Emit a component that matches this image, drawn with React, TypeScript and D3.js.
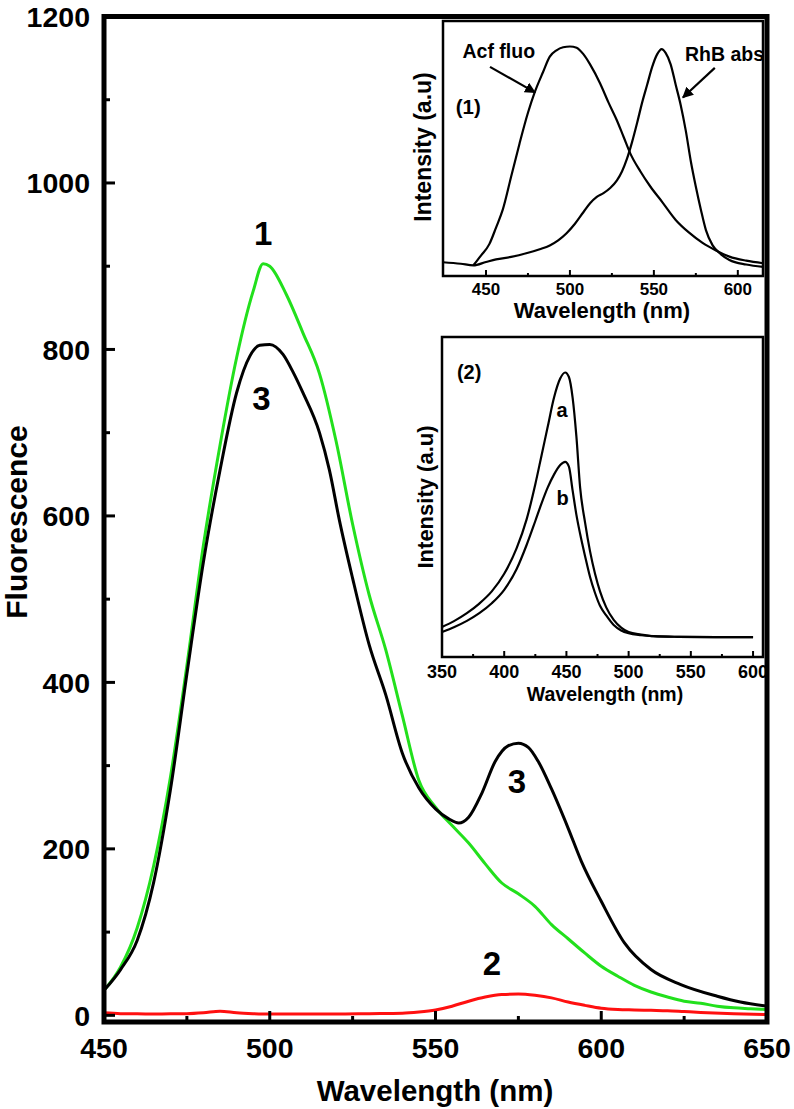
import * as d3 from 'd3'

// main plot: fluorescence spectra (curves 1, 2, 3)
const greenWl = [450, 455, 460, 465, 470, 475, 480, 485, 490, 495, 498, 500, 505, 510, 515, 520, 525, 530, 535, 540, 545, 550, 555, 560, 565, 570, 575, 580, 585, 590, 595, 600, 605, 610, 615, 620, 625, 630, 635, 640, 645, 650]
const green = [30, 58, 105, 180, 285, 420, 565, 685, 790, 870, 903, 900, 866, 820, 771, 690, 590, 505, 439, 360, 282, 250, 228, 207, 182, 159, 146, 131, 109, 92, 75, 59, 47, 36, 28, 22, 17, 14.5, 11, 9, 8, 7]

const blackWl = [450, 455, 460, 465, 470, 475, 480, 485, 490, 494, 497, 500, 504, 507, 510, 515, 518, 521, 525, 530, 535, 540, 545, 550, 554, 557, 560, 564, 568, 572, 575, 578, 581, 585, 590, 594, 600, 607, 615, 624, 635, 642, 650]
const black = [30, 55, 90, 160, 270, 410, 545, 655, 748, 792, 805, 806, 794, 773, 748, 700, 655, 595, 525, 445, 385, 315, 273, 248, 236, 231, 238, 267, 305, 324, 327, 322, 305, 272, 225, 185, 137, 87, 55, 37, 23, 16, 11]

const redWl = [450, 455, 460, 465, 470, 475, 480, 485, 490, 495, 500, 510, 520, 530, 540, 545, 550, 555, 560, 565, 570, 575, 580, 585, 590, 595, 600, 605, 610, 615, 620, 625, 630, 640, 650]
const red = [3, 2, 2, 1.5, 2, 2, 3, 5, 3, 2, 1.5, 1.5, 1.5, 2, 2.5, 4, 6.5, 11, 17, 22, 25, 25.5, 24, 21, 16, 12, 8.5, 7, 6.5, 6, 5.5, 4.5, 3.5, 2, 1]

const xTicks = [450, 500, 550, 600, 650]
const xMinor = [475, 525, 575, 625]
const yTicks = [0, 200, 400, 600, 800, 1000, 1200]
const yMinor = [100, 300, 500, 700, 900, 1100]

// inset (1): Acf fluorescence vs RhB absorption
const acfWl = [442.5, 447, 452, 456, 460, 465, 470, 475, 479, 484, 488, 492, 496, 500, 504, 508, 512, 518, 523, 528, 532, 536, 542, 548, 555, 563, 571, 579, 587, 595, 605, 615]
const acf = [0.042, 0.08, 0.125, 0.19, 0.26, 0.39, 0.52, 0.64, 0.72, 0.8, 0.86, 0.885, 0.897, 0.9, 0.895, 0.87, 0.83, 0.755, 0.68, 0.61, 0.545, 0.48, 0.41, 0.35, 0.29, 0.22, 0.17, 0.13, 0.1, 0.076, 0.06, 0.05]
const rhbWl = [424.4, 435, 442.5, 450, 456, 465, 474, 482, 488, 493, 498, 503, 508, 512, 516, 520, 524, 528, 531, 534, 537, 540, 543, 546, 549, 552, 554.6, 557, 560, 563, 566, 569, 572, 575, 578, 581, 585, 590, 595, 605, 615]
const rhb = [0.054, 0.048, 0.042, 0.055, 0.065, 0.075, 0.089, 0.105, 0.12, 0.14, 0.168, 0.205, 0.25, 0.285, 0.31, 0.325, 0.345, 0.375, 0.41, 0.46, 0.525, 0.6, 0.68, 0.75, 0.82, 0.87, 0.89, 0.875, 0.83, 0.75, 0.67, 0.57, 0.45, 0.35, 0.26, 0.18, 0.12, 0.085, 0.063, 0.045, 0.036]
const in1Ticks = [450, 500, 550, 600]
const in1Minor = [475, 525, 575]

// inset (2): curves a and b
const in2Wl = [350, 360, 370, 380, 390, 400, 410, 418, 425, 430, 435, 440, 445, 449, 452, 455, 458, 461, 465, 469, 473, 477, 482, 488, 494, 500, 510, 520, 540, 570, 600]
const curveA = [0.094, 0.113, 0.137, 0.167, 0.205, 0.26, 0.34, 0.43, 0.54, 0.63, 0.72, 0.81, 0.87, 0.889, 0.875, 0.81, 0.69, 0.53, 0.42, 0.33, 0.26, 0.205, 0.155, 0.116, 0.092, 0.078, 0.07, 0.065, 0.063, 0.062, 0.062]
const curveB = [0.078, 0.094, 0.113, 0.137, 0.168, 0.21, 0.275, 0.35, 0.425, 0.48, 0.53, 0.57, 0.6, 0.61, 0.595, 0.52, 0.445, 0.385, 0.315, 0.25, 0.2, 0.16, 0.13, 0.1, 0.083, 0.074, 0.068, 0.065, 0.063, 0.062, 0.062]
const in2Ticks = [350, 400, 450, 500, 550, 600]
const in2Minor = [375, 425, 475, 525, 575]

const FONT = '"Liberation Sans", Arial, Helvetica, sans-serif'

const zip = (xs: number[], ys: number[]) => xs.map((v, i) => [v, ys[i]] as [number, number])

export default function App() {
  // main axes
  const x = d3.scaleLinear([450, 650], [104, 767])
  const y = d3.scaleLinear([-8, 1200], [1022, 16.5])
  const line = d3
    .line<[number, number]>()
    .x((d) => x(d[0]))
    .y((d) => y(d[1]))
    .curve(d3.curveMonotoneX)

  // inset 1
  const x1 = d3.scaleLinear([424.4, 615], [443, 763])
  const y1 = d3.scaleLinear([0, 1], [276, 21])
  const line1 = d3
    .line<[number, number]>()
    .x((d) => x1(d[0]))
    .y((d) => y1(d[1]))
    .curve(d3.curveMonotoneX)

  // inset 2
  const x2 = d3.scaleLinear([350, 608], [442, 763])
  const y2 = d3.scaleLinear([0, 1], [657, 337])
  const line2 = d3
    .line<[number, number]>()
    .x((d) => x2(d[0]))
    .y((d) => y2(d[1]))
    .curve(d3.curveMonotoneX)

  const bottom = y(-8)
  const left = x(450)

  return (
    <svg
      width={794}
      height={1109}
      style={{ position: 'absolute', left: 0, top: 0, background: 'white' }}
      fontFamily={FONT}
      fontWeight="bold"
    >
      <defs>
        <marker id="arr" viewBox="0 0 10 10" refX="9" refY="5" markerWidth="5" markerHeight="5" orient="auto">
          <path d="M0,0 L10,5 L0,10 z" fill="black" />
        </marker>
        <clipPath id="plot">
          <rect x={left} y={y(1200)} width={x(650) - left} height={bottom - y(1200)} />
        </clipPath>
        <clipPath id="in1">
          <rect x={443} y={21} width={320} height={255} />
        </clipPath>
      </defs>
      <rect width={794} height={1109} fill="white" />

      {/* main curves */}
      <g clipPath="url(#plot)" fill="none" strokeWidth={3} strokeLinejoin="round">
        <path d={line(zip(redWl, red)) || undefined} stroke="#ff1010" />
        <path d={line(zip(greenWl, green)) || undefined} stroke="#22e01c" />
        <path d={line(zip(blackWl, black)) || undefined} stroke="black" />
      </g>

      {/* main ticks */}
      <g stroke="black" strokeWidth={3}>
        {yTicks.map((t) => (
          <line key={'y' + t} x1={left} x2={left + 11} y1={y(t)} y2={y(t)} />
        ))}
        {yMinor.map((t) => (
          <line key={'ym' + t} x1={left} x2={left + 6} y1={y(t)} y2={y(t)} />
        ))}
        {xTicks.map((t) => (
          <line key={'x' + t} x1={x(t)} x2={x(t)} y1={bottom} y2={bottom - 11} />
        ))}
        {xMinor.map((t) => (
          <line key={'xm' + t} x1={x(t)} x2={x(t)} y1={bottom} y2={bottom - 6} />
        ))}
      </g>
      <g fontSize={28.5} fill="black">
        {yTicks.map((t) => (
          <text key={t} x={90} y={y(t)} dy="0.36em" textAnchor="end">
            {t}
          </text>
        ))}
        {xTicks.map((t) => (
          <text key={t} x={x(t)} y={1058} textAnchor="middle">
            {t}
          </text>
        ))}
      </g>
      <text x={435} y={1101} textAnchor="middle" fontSize={29.5}>
        Wavelength (nm)
      </text>
      <text transform="translate(27,522) rotate(-90)" textAnchor="middle" fontSize={30}>
        Fluorescence
      </text>

      {/* curve labels */}
      <g fontSize={33} textAnchor="middle">
        <text x={x(498)} y={y(925)}>1</text>
        <text x={x(497.5)} y={y(727)}>3</text>
        <text x={x(574.6)} y={y(267)}>3</text>
        <text x={x(567)} y={y(48)}>2</text>
      </g>

      {/* inset panel background */}
      <rect x={405} y={19} width={360} height={690} fill="white" />

      {/* inset 1 */}
      <g fill="none" stroke="black" strokeWidth={2.2}>
        <path d={line1(zip(acfWl, acf)) || undefined} />
        <path d={line1(zip(rhbWl, rhb)) || undefined} />
      </g>
      <g fontSize={19.5} clipPath="url(#in1)">
        <text x={x1(436)} y={y1(0.855)}>Acf fluo</text>
        <text x={x1(568.5)} y={y1(0.845)}>RhB abs</text>
        <text x={x1(432)} y={y1(0.635)} fontSize={20.5}>(1)</text>
      </g>
      <rect x={443} y={21} width={763 - 443} height={276 - 21} fill="none" stroke="black" strokeWidth={2.5} />
      <g stroke="black" strokeWidth={2}>
        {in1Ticks.map((t) => (
          <line key={t} x1={x1(t)} x2={x1(t)} y1={276} y2={270} />
        ))}
        {in1Minor.map((t) => (
          <line key={t} x1={x1(t)} x2={x1(t)} y1={276} y2={273} />
        ))}
      </g>
      <g fontSize={17} textAnchor="middle">
        {in1Ticks.map((t) => (
          <text key={t} x={x1(t)} y={295}>
            {t}
          </text>
        ))}
      </g>
      <text x={602} y={318} textAnchor="middle" fontSize={22}>
        Wavelength (nm)
      </text>
      <text transform="translate(431,147) rotate(-90)" textAnchor="middle" fontSize={23}>
        Intensity (a.u)
      </text>
      <g stroke="black" strokeWidth={2.2} markerEnd="url(#arr)">
        <line x1={x1(452.4)} y1={y1(0.82)} x2={x1(479.2)} y2={y1(0.72)} />
        <line x1={x1(586.3)} y1={y1(0.816)} x2={x1(567.3)} y2={y1(0.7)} />
      </g>

      {/* inset 2 */}
      <g fill="none" stroke="black" strokeWidth={2.2}>
        <path d={line2(zip(in2Wl, curveA)) || undefined} />
        <path d={line2(zip(in2Wl, curveB)) || undefined} />
      </g>
      <rect x={442} y={337} width={763 - 442} height={657 - 337} fill="none" stroke="black" strokeWidth={2.5} />
      <g stroke="black" strokeWidth={2}>
        {in2Ticks.map((t) => (
          <line key={t} x1={x2(t)} x2={x2(t)} y1={657} y2={651} />
        ))}
        {in2Minor.map((t) => (
          <line key={t} x1={x2(t)} x2={x2(t)} y1={657} y2={654} />
        ))}
      </g>
      <g fontSize={18} textAnchor="middle">
        {in2Ticks.map((t) => (
          <text key={t} x={x2(t)} y={678}>
            {t}
          </text>
        ))}
      </g>
      <text x={605} y={701} textAnchor="middle" fontSize={19.5}>
        Wavelength (nm)
      </text>
      <text transform="translate(433,497) rotate(-90)" textAnchor="middle" fontSize={22}>
        Intensity (a.u)
      </text>
      <g fontSize={20}>
        <text x={x2(362)} y={y2(0.87)}>(2)</text>
        <text x={x2(446.5)} y={y2(0.75)} textAnchor="middle">a</text>
        <text x={x2(447)} y={y2(0.475)} textAnchor="middle">b</text>
      </g>

      {/* main frame on top */}
      <rect
        x={left}
        y={y(1200)}
        width={x(650) - left}
        height={bottom - y(1200)}
        fill="none"
        stroke="black"
        strokeWidth={5}
      />
    </svg>
  )
}
